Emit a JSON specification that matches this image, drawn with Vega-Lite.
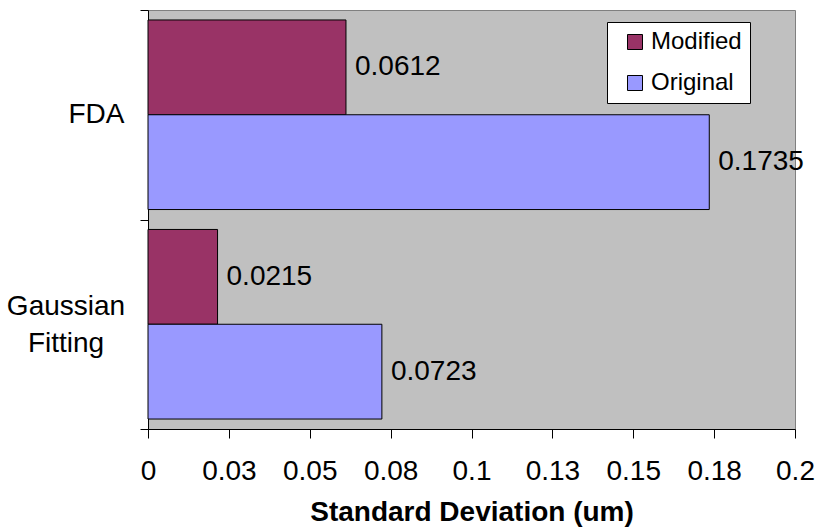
{
  "$schema": "https://vega.github.io/schema/vega-lite/v6.json",
  "autosize": {"type": "none"},
  "width": 647,
  "height": 419,
  "padding": {"left": 148, "top": 10, "right": 23, "bottom": 98},
  "background": "white",
  "config": {
    "font": "Liberation Sans",
    "view": {"fill": "#C0C0C0", "stroke": "#808080", "strokeWidth": 1}
  },
  "data": {
    "values": [
      {"method": "FDA", "series": "Modified", "value": 0.0612},
      {"method": "FDA", "series": "Original", "value": 0.1735},
      {"method": "Gaussian Fitting", "series": "Modified", "value": 0.0215},
      {"method": "Gaussian Fitting", "series": "Original", "value": 0.0723}
    ]
  },
  "encoding": {
    "y": {
      "field": "method",
      "type": "nominal",
      "sort": ["FDA", "Gaussian Fitting"],
      "scale": {"paddingInner": 0, "paddingOuter": 0},
      "axis": {
        "title": null,
        "tickBand": "extent",
        "domainColor": "black",
        "tickColor": "black",
        "tickSize": 8,
        "labelFont": "Liberation Sans",
        "labelFontSize": 28,
        "labelColor": "black",
        "labelAlign": {"condition": {"test": "datum.value == 'Gaussian Fitting'", "value": "center"}, "value": "right"},
        "labelPadding": {"condition": {"test": "datum.value == 'Gaussian Fitting'", "value": 74.5}, "value": 16},
        "labelOffset": {"condition": {"test": "datum.value == 'Gaussian Fitting'", "value": -18}, "value": 0},
        "labelLineHeight": 37,
        "labelLimit": 200,
        "labelExpr": "datum.label == 'Gaussian Fitting' ? ['Gaussian', 'Fitting'] : datum.label"
      }
    },
    "yOffset": {
      "field": "series",
      "type": "nominal",
      "sort": ["Modified", "Original"],
      "scale": {"paddingInner": 0, "paddingOuter": 0.105}
    },
    "x": {
      "field": "value",
      "type": "quantitative",
      "scale": {"domain": [0, 0.2], "nice": false, "zero": true},
      "axis": {
        "title": "Standard Deviation (um)",
        "titleFont": "Liberation Sans",
        "titleFontSize": 28,
        "titleFontWeight": "bold",
        "titleColor": "black",
        "titleBaseline": "alphabetic",
        "titleY": 91,
        "values": [0, 0.025, 0.05, 0.075, 0.1, 0.125, 0.15, 0.175, 0.2],
        "labelExpr": "['0','0.03','0.05','0.08','0.1','0.13','0.15','0.18','0.2'][round(datum.value*40)]",
        "labelFont": "Liberation Sans",
        "labelFontSize": 28,
        "labelColor": "black",
        "labelPadding": 19,
        "labelFlush": false,
        "labelOverlap": false,
        "grid": false,
        "domainColor": "black",
        "tickColor": "black",
        "tickSize": 9
      }
    }
  },
  "layer": [
    {
      "mark": {"type": "bar", "stroke": "black", "strokeWidth": 1},
      "encoding": {
        "color": {
          "field": "series",
          "type": "nominal",
          "sort": ["Modified", "Original"],
          "scale": {"domain": ["Modified", "Original"], "range": ["#993366", "#9999FF"]},
          "legend": {
            "title": null,
            "orient": "none",
            "legendX": 459,
            "legendY": 12,
            "fillColor": "white",
            "strokeColor": "black",
            "padding": 8,
            "symbolType": "square",
            "symbolSize": 225,
            "symbolStrokeColor": "black",
            "symbolStrokeWidth": 1,
            "symbolOffset": 8,
            "labelFont": "Liberation Sans",
            "labelFontSize": 24,
            "labelColor": "black",
            "labelOffset": 4,
            "labelExpr": "datum.label + '\u00a0'",
            "rowPadding": 17
          }
        }
      }
    },
    {
      "mark": {"type": "text", "align": "left", "baseline": "middle", "dx": 9, "fontSize": 28, "font": "Liberation Sans", "color": "black"},
      "encoding": {
        "text": {"field": "value", "type": "quantitative", "format": ".4f"}
      }
    }
  ]
}
